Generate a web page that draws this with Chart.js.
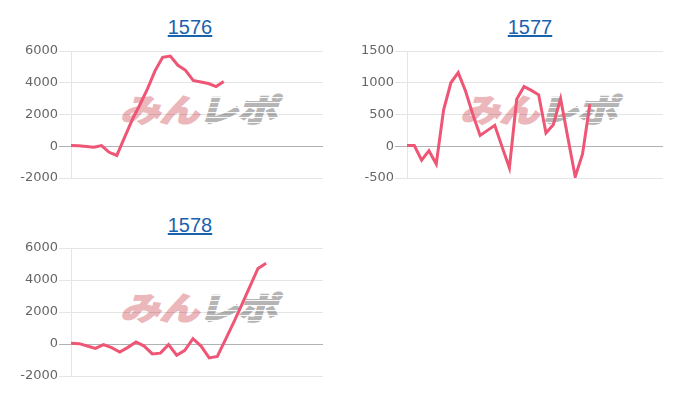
<!DOCTYPE html>
<html><head><meta charset="utf-8">
<script src="https://cdn.jsdelivr.net/npm/chart.js@4"></script>
<style>
body{margin:0;width:700px;height:400px;background:#fff;position:relative;overflow:hidden;font-family:"Liberation Sans",Arial,sans-serif}
.title{position:absolute;width:340px;text-align:center;font-size:20px;line-height:20px}
.title a{color:#1a62ad;text-decoration:underline}
.wm{position:absolute;font-family:"Noto Sans CJK JP";font-weight:900;font-size:40px;line-height:40px;white-space:nowrap;transform:skewX(-16deg) scaleY(0.8);transform-origin:0 50%;letter-spacing:-1px}
.wm .a{color:#ecb7bb;-webkit-text-stroke:1.5px #ecb7bb}
.wm .b{color:#b5b5b5;-webkit-text-stroke:1.5px #b5b5b5}
.stripes{position:absolute;width:86px;height:30px;background:repeating-linear-gradient(to bottom,rgba(255,255,255,0) 0 4px,rgba(255,255,255,0.9) 4px 5px)}
.box{position:absolute;width:330px}
</style></head>
<body>
<div class="title" style="left:20px;top:17px"><a href="#">1576</a></div>
<div class="title" style="left:360px;top:17px"><a href="#">1577</a></div>
<div class="title" style="left:20px;top:215px"><a href="#">1578</a></div>
<div class="wm" style="left:124px;top:88px"><span class="a">みん</span><span class="b">レポ</span></div>
<div class="wm" style="left:464px;top:88px"><span class="a">みん</span><span class="b">レポ</span></div>
<div class="wm" style="left:124px;top:286px"><span class="a">みん</span><span class="b">レポ</span></div>
<div class="stripes" style="left:202px;top:93px"></div>
<div class="stripes" style="left:542px;top:93px"></div>
<div class="stripes" style="left:202px;top:291px"></div>
<div class="box" style="left:10px;top:31px;height:167px"><canvas id="c1"></canvas></div>
<div class="box" style="left:350px;top:31px;height:167px"><canvas id="c2"></canvas></div>
<div class="box" style="left:10px;top:228px;height:168px"><canvas id="c3"></canvas></div>
<script>
const labels1576 = [1,2,3,4,5,6,7,8,9,10,11,12,13,14,15,16,17,18,19,20,21,22,23,24,25,26,27,28,29,30,31,32,33,34];
const labels1577 = [1,2,3,4,5,6,7,8,9,10,11,12,13,14,15,16,17,18,19,20,21,22,23,24,25,26,27,28,29,30,31,32,33,34,35,36];
const labels1578 = [1,2,3,4,5,6,7,8,9,10,11,12,13,14,15,16,17,18,19,20,21,22,23,24,25,26,27,28,29,30,31,32];
const values1576 = [40, 30, -20, -60, 40, -380, -580, 540, 1650, 2600, 3600, 4750, 5600, 5680, 5100, 4780, 4150, 4050, 3950, 3760, 4080];
const values1577 = [10, 10, -220, -70, -280, 570, 1000, 1160, 870, 500, 170, 250, 330, -10, -340, 740, 940, 880, 810, 210, 340, 750, 130, -480, -120, 660];
const values1578 = [40, 20, -125, -275, -40, -230, -500, -210, 130, -130, -620, -570, -40, -700, -400, 330, -130, -870, -780, 270, 1340, 2440, 3590, 4720, 5050];
const yRange1576 = [-2000, 6000, 2000];
const yRange1577 = [-500, 1500, 500];
const yRange1578 = [-2000, 6000, 2000];

function make(id, labels, values, range, axisWidth){
  new Chart(document.getElementById(id), {
    type: 'line',
    data: { labels: labels, datasets: [{ data: values, borderColor: '#ef5574', borderWidth: 3, pointRadius: 0, fill: false, tension: 0 }] },
    options: {
      responsive: true, maintainAspectRatio: false, animation: false,
      layout: { padding: { top: 20, bottom: 20, right: 17, left: 0 } },
      plugins: { legend: { display: false }, tooltip: { enabled: false } },
      scales: {
        x: { display: false },
        y: {
          min: range[0], max: range[1],
          ticks: { stepSize: range[2], color: '#666', padding: 1, font: { family: 'DejaVu Sans', size: 13 }, callback: (v) => String(v) },
          grid: { tickLength: 12, color: (c) => (c.tick && c.tick.value === 0) ? 'rgba(0,0,0,0.3)' : 'rgba(0,0,0,0.1)' },
          border: { color: 'rgba(0,0,0,0.1)' },
          afterFit: (s) => { s.width = axisWidth; }
        }
      }
    }
  });
}
make('c1', labels1576, values1576, yRange1576, 61);
make('c2', labels1577, values1577, yRange1577, 57);
make('c3', labels1578, values1578, yRange1578, 61);
</script>
</body></html>
